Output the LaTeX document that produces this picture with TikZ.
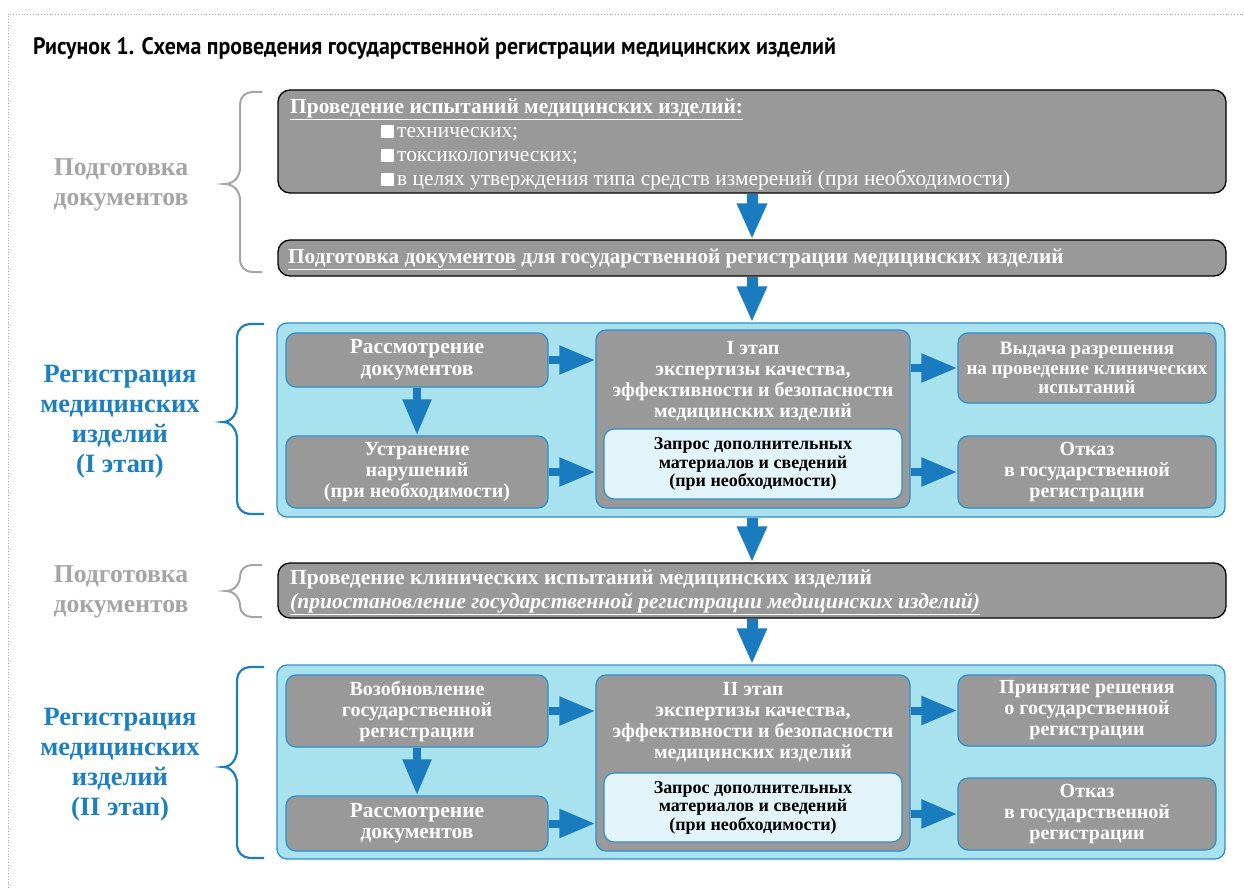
\documentclass[tikz,border=0pt]{standalone}
\usepackage{fontspec}
\setmainfont{Liberation Serif}
\newfontfamily\titlefont[FakeStretch=0.92]{PT Sans}
\usetikzlibrary{arrows.meta}
\definecolor{boxgray}{HTML}{999999}
\definecolor{panelfill}{HTML}{A8E2EF}
\definecolor{panelline}{HTML}{2E8FCD}
\definecolor{arrblue}{HTML}{1A7BBF}
\definecolor{lblblue}{HTML}{1C7FC0}
\definecolor{lblgray}{HTML}{A5A5A5}
\definecolor{whitebox}{HTML}{E3F5FB}
\newcommand\boxfnt{\bfseries\fontsize{20}{21}\selectfont}
\newcommand\bigboxfnt{\bfseries\fontsize{21.5}{21.5}\selectfont}
\newcommand\smboxfnt{\bfseries\fontsize{19}{19.5}\selectfont}
\newcommand\glblfnt{\bfseries\fontsize{25.7}{30}\selectfont}
\newcommand\blblfnt{\bfseries\fontsize{26.5}{30}\selectfont}
\newcommand\wfnt{\bfseries\fontsize{18}{18.5}\selectfont}
\newcommand\mybul{\textcolor{white}{\rule{13pt}{13pt}}\hspace{3pt}}
\begin{document}
\begin{tikzpicture}[x=1pt,y=-1pt,
  gbox/.style={draw=black, line width=1.3pt, fill=boxgray, rounded corners=12pt, inner sep=0pt},
  ibox/.style={draw=panelline, line width=1.2pt, fill=boxgray, rounded corners=10pt, text=white, font=\boxfnt, align=center, inner sep=0pt},
  wbox/.style={draw=panelline, line width=1.2pt, fill=whitebox, rounded corners=10pt, text=black, font=\wfnt, align=center, inner sep=0pt},
  panel/.style={draw=panelline, line width=1.3pt, fill=panelfill, rounded corners=10pt, inner sep=0pt},
  bigarr/.style={draw=arrblue, line width=11pt, -{Triangle[width=28pt,length=36pt]}},
  smallarr/.style={draw=arrblue, line width=8pt, -{Triangle[width=27pt,length=36pt]}},
  graylbl/.style={text=lblgray, font=\glblfnt, align=center},
  bluelbl/.style={text=lblblue, font=\blblfnt, align=center},
  gbrace/.style={draw=lblgray, line width=2pt},
  bbrace/.style={draw=lblblue, line width=2.2pt},
  wtext/.style={text=white, inner sep=0pt, anchor=west, align=left},
]
\useasboundingbox (0,0) rectangle (1244,888);
\draw[dotted, color=gray!70, line width=0.8pt] (8,888) -- (8,14) -- (1244,14);

% title
\node[anchor=west, inner sep=0pt, font=\titlefont\bfseries\fontsize{23.8}{26}\selectfont] (title) at (33,48) {Рисунок 1. Схема проведения государственной регистрации медицинских изделий};

% top section
\node[gbox, minimum width=948pt, minimum height=103pt] (box1) at (752,141.5) {};
\node[wtext, font=\fontsize{21.4}{24}\selectfont] (box1t) at (290,144.5) {\textbf{\underline{Проведение испытаний медицинских изделий:}}\\
  \hspace*{91pt}\mybul технических;\\
  \hspace*{91pt}\mybul токсикологических;\\
  \hspace*{91pt}\mybul в целях утверждения типа средств измерений (при необходимости)};
\node[gbox, minimum width=948pt, minimum height=36pt] (box2) at (752,258) {};
\node[wtext, font=\bfseries\fontsize{21.25}{21.5}\selectfont] (box2t) at (288,259) {\underline{Подготовка документов} для государственной регистрации медицинских изделий};

\draw[bigarr] (box1) -- (box2);

% panel 1
\node[panel, minimum width=948pt, minimum height=194pt] (panel1) at (751,420) {};
\draw[bigarr] (box2) -- (box2.south |- panel1.north);
\node[ibox, font=\bigboxfnt, minimum width=262pt, minimum height=54pt] (rass1) at (417,360) {Рассмотрение\\документов};
\node[ibox, minimum width=262pt, minimum height=72pt] (ustr) at (417,472) {Устранение\\нарушений\\(при необходимости)};
\node[ibox, minimum width=314pt, minimum height=178pt] (c1) at (753,419) {};
\node[text=white, font=\boxfnt, align=center, inner sep=0pt] (c1t) at (753,381) {I этап\\экспертизы качества,\\эффективности и безопасности\\медицинских изделий};
\node[wbox, minimum width=298pt, minimum height=70pt] (z1) at (753,464) {Запрос дополнительных\\материалов и сведений\\(при необходимости)};
\node[ibox, font=\smboxfnt, minimum width=258pt, minimum height=70pt] (vyd) at (1087,368) {Выдача разрешения\\на проведение клинических\\испытаний};
\node[ibox, minimum width=258pt, minimum height=72pt] (otk1) at (1087,472) {Отказ\\в государственной\\регистрации};
\draw[smallarr] (rass1) -- (ustr);
\draw[smallarr] (rass1.east) -- (rass1.east -| c1.west);
\draw[smallarr] (ustr.east) -- (ustr.east -| c1.west);
\draw[smallarr] (vyd.west -| c1.east) -- (vyd.west);
\draw[smallarr] (otk1.west -| c1.east) -- (otk1.west);

% box 3
\node[gbox, minimum width=948pt, minimum height=55pt] (box3) at (752,590.5) {};
\node[wtext, font=\bfseries\fontsize{21.5}{24}\selectfont] (box3t) at (290,592) {Проведение клинических испытаний медицинских изделий\\
  \textit{\underline{(приостановление государственной регистрации медицинских изделий)}}};
\draw[bigarr] (panel1.south -| box3.north) -- (box3);

% panel 2
\node[panel, minimum width=948pt, minimum height=194pt] (panel2) at (751,762) {};
\draw[bigarr] (box3) -- (box3.south |- panel2.north);
\node[ibox, minimum width=262pt, minimum height=72pt] (vozob) at (417,711) {Возобновление\\государственной\\регистрации};
\node[ibox, font=\bigboxfnt, minimum width=262pt, minimum height=55pt] (rass2) at (417,823.5) {Рассмотрение\\документов};
\node[ibox, minimum width=314pt, minimum height=176pt] (c2) at (753,763) {};
\node[text=white, font=\boxfnt, align=center, inner sep=0pt] (c2t) at (753,722) {II этап\\экспертизы качества,\\эффективности и безопасности\\медицинских изделий};
\node[wbox, minimum width=298pt, minimum height=69pt] (z2) at (753,807.5) {Запрос дополнительных\\материалов и сведений\\(при необходимости)};
\node[ibox, minimum width=258pt, minimum height=71pt] (prin) at (1087,710.5) {Принятие решения\\о государственной\\регистрации};
\node[ibox, minimum width=258pt, minimum height=72pt] (otk2) at (1087,814) {Отказ\\в государственной\\регистрации};
\draw[smallarr] (vozob) -- (rass2);
\draw[smallarr] (vozob.east) -- (vozob.east -| c2.west);
\draw[smallarr] (rass2.east) -- (rass2.east -| c2.west);
\draw[smallarr] (prin.west -| c2.east) -- (prin.west);
\draw[smallarr] (otk2.west -| c2.east) -- (otk2.west);

% left labels
\node[graylbl] (lbl1) at (121,185) {Подготовка\\документов};
\node[bluelbl] (lbl2) at (120,422) {Регистрация\\медицинских\\изделий\\(I этап)};
\node[graylbl] (lbl3) at (121,592) {Подготовка\\документов};
\node[bluelbl] (lbl4) at (120,765) {Регистрация\\медицинских\\изделий\\(II этап)};

% braces
\draw[gbrace] (262,92) -- (252,92) to[out=180,in=90] (240,104) -- (240,168) to[out=-90,in=0] (225,184) to[out=0,in=90] (240,200) -- (240,260) to[out=-90,in=180] (252,272) -- (262,272);
\draw[gbrace] (262,565) -- (252,565) to[out=180,in=90] (240,576) to[out=-90,in=0] (226,591) to[out=0,in=90] (240,606) to[out=-90,in=180] (252,617) -- (262,617);
\draw[bbrace] (264,324) -- (250,324) to[out=180,in=90] (237,337) -- (237,405) to[out=-90,in=0] (223,422) to[out=0,in=90] (237,439) -- (237,501) to[out=-90,in=180] (250,514) -- (264,514);
\draw[bbrace] (264,667) -- (250,667) to[out=180,in=90] (237,680) -- (237,750) to[out=-90,in=0] (223,767) to[out=0,in=90] (237,784) -- (237,845) to[out=-90,in=180] (250,858) -- (264,858);
\end{tikzpicture}
\end{document}
